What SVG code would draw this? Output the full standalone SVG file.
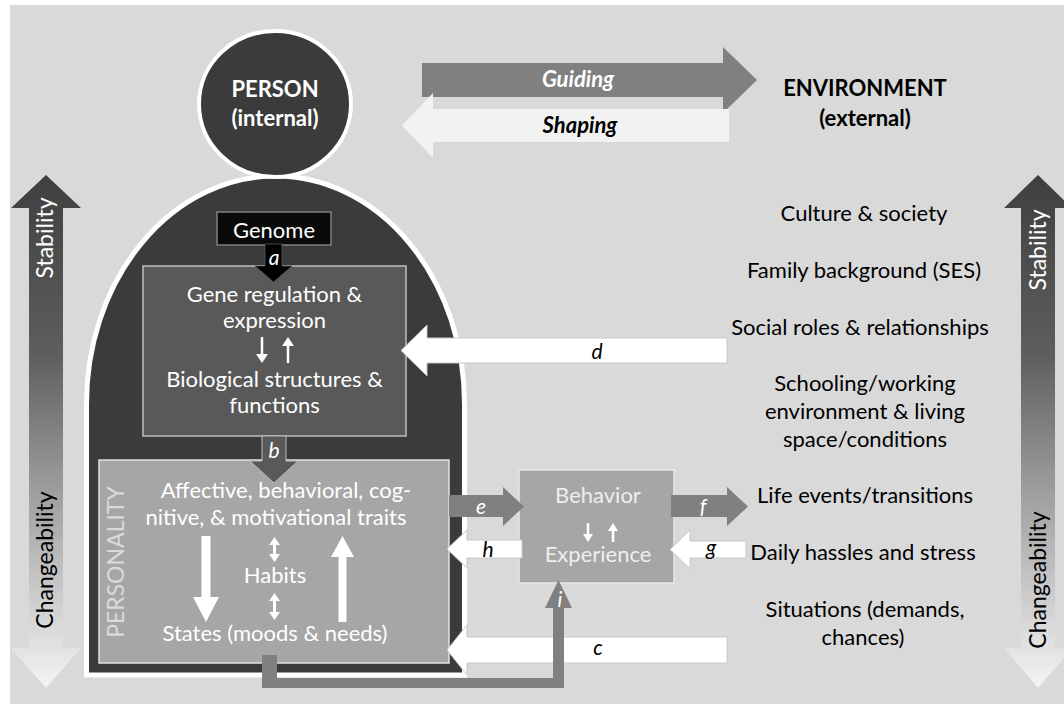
<svg xmlns="http://www.w3.org/2000/svg" width="1064" height="704" viewBox="0 0 1064 704">
<defs>
<linearGradient id="grad" x1="0" y1="175" x2="0" y2="688" gradientUnits="userSpaceOnUse">
<stop offset="0" stop-color="#3f3f3f"/>
<stop offset="0.35" stop-color="#5e5e5e"/>
<stop offset="0.6" stop-color="#9a9a9a"/>
<stop offset="1" stop-color="#f4f4f4"/>
</linearGradient>
<style>
text{font-family:Lato,"Liberation Sans",sans-serif;font-size:22px;text-anchor:middle}
.w{fill:#ffffff}
.k{fill:#000000}
.b{font-weight:bold}
.it{font-style:italic}
.lbl{font-style:italic;font-size:21px}
.rot{font-size:23px}
.wa{fill:#ffffff;stroke:#c8c8c8;stroke-width:1}
.ga{fill:#808080}
</style>
</defs>
<rect x="0" y="0" width="1064" height="704" fill="#ffffff"/>
<rect x="10" y="5" width="1054" height="699" fill="#d9d9d9"/>

<g id="stability-left">
<polygon points="46,175 81,208 63,208 63,648 81,648 46,688 11,648 29,648 29,208 11,208" fill="url(#grad)"/>
<text transform="translate(53,238) rotate(-90)" class="w rot">Stability</text>
<text transform="translate(53,560) rotate(-90)" class="k rot">Changeability</text>
</g>
<g id="stability-right">
<polygon points="1038,175 1072,208 1055,208 1055,648 1072,648 1038,688 1004,648 1021,648 1021,208 1004,208" fill="url(#grad)"/>
<text transform="translate(1046,250) rotate(-90)" class="w rot">Stability</text>
<text transform="translate(1046,580) rotate(-90)" class="k rot">Changeability</text>
</g>

<g id="person-body">
<path d="M86.5,675 L86.5,404 A189,228 0 0 1 464.5,404 L464.5,675 Z" fill="#3b3b3b" stroke="#ffffff" stroke-width="5"/>
</g>
<g id="person-head">
<ellipse cx="275" cy="104" rx="76" ry="73" fill="#3b3b3b" stroke="#ffffff" stroke-width="4"/>
<text x="275" y="97" class="w b">PERSON</text>
<text x="275" y="126" class="w b">(internal)</text>
</g>

<g id="guiding-shaping">
<polygon points="422,63 723,63 723,47 757,80 723,113 723,97 422,97" fill="#808080"/>
<polygon points="729,109 433,109 433,93 402,125.5 433,158 433,142 729,142" fill="#f2f2f2"/>
<text x="578" y="87" class="w b it">Guiding</text>
<text x="580" y="133" class="k b it">Shaping</text>
</g>

<g id="environment">
<text x="865" y="96" class="k b">ENVIRONMENT</text>
<text x="865" y="126" class="k b">(external)</text>
<text x="864" y="221" class="k">Culture &amp; society</text>
<text x="864" y="278" class="k">Family background (SES)</text>
<text x="860" y="335" class="k">Social roles &amp; relationships</text>
<text x="865" y="391" class="k">Schooling/working</text>
<text x="865" y="419" class="k">environment &amp; living</text>
<text x="865" y="447" class="k">space/conditions</text>
<text x="865" y="503" class="k">Life events/transitions</text>
<text x="863" y="560" class="k">Daily hassles and stress</text>
<text x="865" y="617" class="k">Situations (demands,</text>
<text x="863" y="645" class="k">chances)</text>
</g>

<g id="gene-box">
<rect x="143" y="266" width="263" height="170" fill="#595959" stroke="#bfbfbf" stroke-width="1.5"/>
<text x="274.5" y="302" class="w">Gene regulation &amp;</text>
<text x="274.5" y="328" class="w">expression</text>
<g stroke="#ffffff" stroke-width="2.5" fill="#ffffff">
<line x1="262" y1="337" x2="262" y2="355"/>
<line x1="288" y1="345" x2="288" y2="363"/>
</g>
<polygon points="256,354 268,354 262,363" fill="#ffffff"/>
<polygon points="282,346 294,346 288,337" fill="#ffffff"/>
<text x="274.5" y="387" class="w">Biological structures &amp;</text>
<text x="274.5" y="413" class="w">functions</text>
</g>

<g id="genome">
<rect x="217" y="212" width="114" height="33" fill="#0a0a0a" stroke="#808080" stroke-width="1.5"/>
<text x="274" y="238" class="w">Genome</text>
</g>

<g id="personality-box">
<rect x="99" y="460" width="350" height="203" fill="#a6a6a6" stroke="#e2e2e2" stroke-width="1.5"/>
<text transform="translate(124,562) rotate(-90)" class="rot" style="fill:#dadada">PERSONALITY</text>
<text x="286" y="498" class="w">Affective, behavioral, cog-</text>
<text x="276" y="525" class="w">nitive, &amp; motivational traits</text>
<text x="275" y="583" class="w">Habits</text>
<text x="275" y="641" class="w">States (moods &amp; needs)</text>
<polygon points="201.5,536 210.5,536 210.5,597 219,597 206,622 193,597 201.5,597" fill="#ffffff"/>
<polygon points="338.5,622 346.5,622 346.5,557 354,557 342.5,536 331,557 338.5,557" fill="#ffffff"/>
<g fill="#ffffff">
<polygon points="274.5,537 280,545 276,545 276,554 280,554 274.5,562 269,554 273,554 273,545 269,545"/>
<polygon points="274.5,593 280,601 276,601 276,612 280,612 274.5,620 269,612 273,612 273,601 269,601"/>
</g>
</g>

<g id="behavior-box">
<rect x="519" y="470" width="155" height="113" fill="#a6a6a6" stroke="#e6e6e6" stroke-width="1.5"/>
<text x="598" y="503" style="fill:#eeeeee">Behavior</text>
<text x="598" y="562" style="fill:#eeeeee">Experience</text>
<line x1="588" y1="523" x2="588" y2="535" stroke="#ffffff" stroke-width="2.5"/>
<polygon points="583,534 593,534 588,542" fill="#ffffff"/>
<line x1="613" y1="530" x2="613" y2="542" stroke="#ffffff" stroke-width="2.5"/>
<polygon points="608,531 618,531 613,523" fill="#ffffff"/>
</g>

<g id="connectors">
<polygon points="265,244 282,244 282,266 292,266 273.5,282 255,266 265,266" fill="#000000" stroke="#555555" stroke-width="0.8"/>
<text x="274" y="265" class="w lbl">a</text>
<polygon points="262,436 286,436 286,461 298,461 274,483 250,461 262,461" fill="#595959" stroke="#bfbfbf" stroke-width="1"/>
<text x="274" y="458" class="w lbl">b</text>
<polygon class="wa" points="727,338 427,338 427,325 401,350.5 427,376 427,363 727,363"/>
<text x="597" y="359" class="k lbl">d</text>
<polygon class="wa" points="727,637 467,637 467,625 447,650 467,675 467,663 727,663"/>
<text x="598" y="655" class="k lbl">c</text>
<polygon class="ga" points="449,495 503,495 503,487 524,506.5 503,526 503,517 449,517"/>
<text x="481" y="514" class="w lbl">e</text>
<polygon class="ga" points="671,495 727,495 727,487 748,506.5 727,526 727,517 671,517"/>
<text x="703" y="514" class="w lbl">f</text>
<polygon class="wa" points="522,540 467,540 467,530 447,549 467,568 467,558 522,558"/>
<text x="488" y="557" class="k lbl">h</text>
<polygon class="wa" points="746,541 690,541 690,530 670,549.5 690,569 690,558 746,558"/>
<text x="711" y="555" class="k lbl">g</text>
<polygon class="ga" points="262,655 277,655 277,678 553,678 553,608 545,608 558.5,580 572,608 564,608 564,688 262,688"/>
<text x="560" y="607" class="w lbl">i</text>
</g>
</svg>
